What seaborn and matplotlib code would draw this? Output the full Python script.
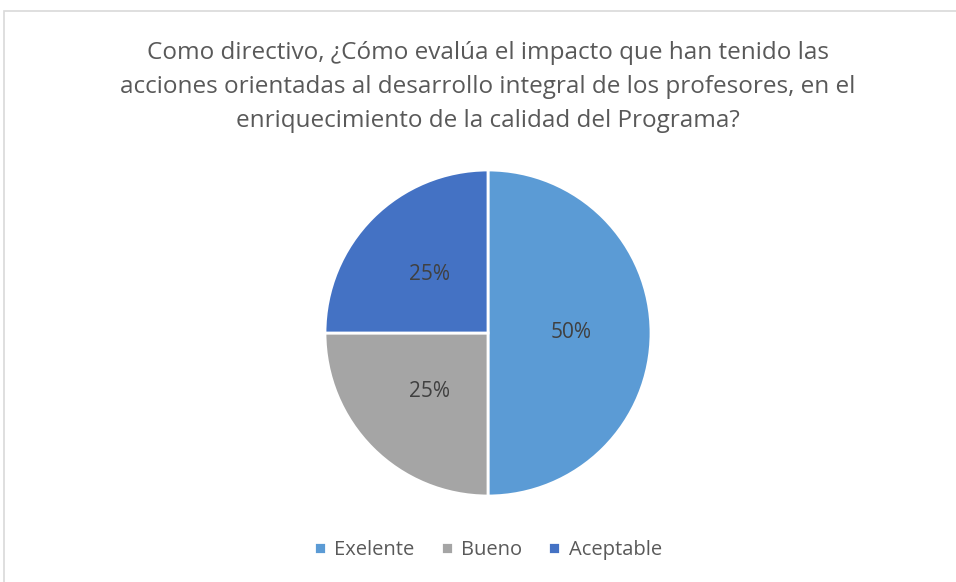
import matplotlib.pyplot as plt
import seaborn as sns
from matplotlib.patches import Rectangle

categories = ["Exelente", "Bueno", "Aceptable"]
values = [50, 25, 25]
colors = ["#5B9BD5", "#A5A5A5", "#4472C4"]
title = ("Como directivo, ¿Cómo evalúa el impacto que han tenido las\n"
         "acciones orientadas al desarrollo integral de los profesores, en el\n"
         "enriquecimiento de la calidad del Programa?")

sns.set_theme(style="white")
plt.rcParams['font.family'] = ['Open Sans', 'DejaVu Sans']

W, H = 956, 582
fig = plt.figure(figsize=(W / 100, H / 100), dpi=100)

# light chart-area border (right/bottom cut off in the reference)
fig.patches.append(Rectangle((4 / W, -0.1), 1.2, (H - 11) / H + 0.1,
                             transform=fig.transFigure, fill=False,
                             edgecolor="#D9D9D9", linewidth=1.2))

cx, cy, r = 488, 333, 163
ax = fig.add_axes([(cx - r) / W, (H - cy - r) / H, 2 * r / W, 2 * r / H])
wedges, _, autotexts = ax.pie(values, colors=colors, startangle=90, counterclock=False,
                              autopct="%1.0f%%", pctdistance=0.51,
                              wedgeprops=dict(edgecolor="white", linewidth=2),
                              textprops=dict(color="#404040", fontsize=15))
ax.set_xlim(-1, 1)
ax.set_ylim(-1, 1)
ax.set_aspect("equal")
ax.axis("off")

fig.text(cx / W, 1 - 87 / H, title, ha="center", va="center", fontsize=17.5,
         color="#595959", linespacing=1.55)

fig.legend(wedges, categories, loc="center", bbox_to_anchor=(cx / W, 1 - 550 / H),
           ncol=3, frameon=False, fontsize=14.5, labelcolor="#595959",
           handlelength=0.6, handleheight=0.6, handletextpad=0.4, columnspacing=1.3)

fig.savefig("out.png", dpi=100)
